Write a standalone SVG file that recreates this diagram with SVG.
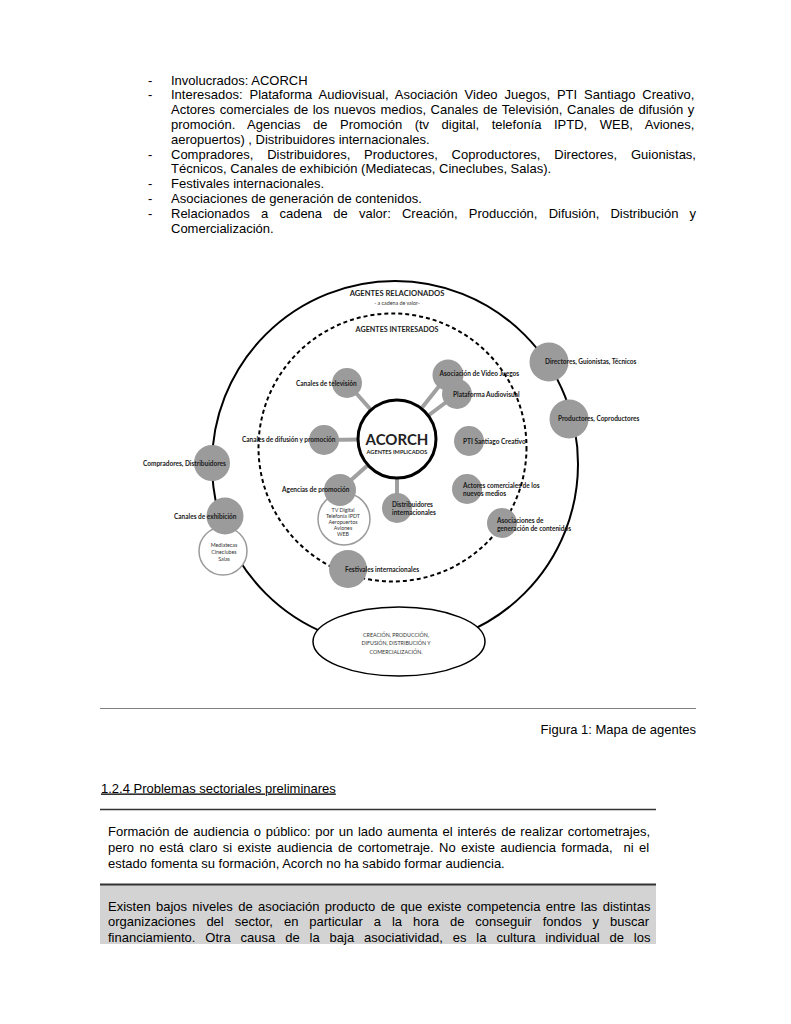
<svg xmlns="http://www.w3.org/2000/svg" width="791" height="1024" viewBox="0 0 791 1024">
<style>
.body{font-family:"Liberation Sans",Arial,sans-serif;font-size:13px;fill:#000}
.lbl{font-family:Lato,"Open Sans",sans-serif;font-weight:700;font-size:6.5px;fill:#1a1a1a}
.sm{font-family:Lato,"Open Sans",sans-serif;font-size:5.3px;fill:#333;text-anchor:middle}
.hd{font-family:Lato,"Open Sans",sans-serif;font-weight:700;fill:#222;text-anchor:middle}
.node{fill:#9b9b9b}
.wnode{fill:#fff;stroke:#9b9b9b;stroke-width:1.5}
.conn{stroke:#a0a0a0;stroke-width:4;fill:none}
</style>
<rect width="791" height="1024" fill="#fff"/>

<g id="intro-text" class="body">
<text x="148" y="84.5">-</text><text x="171" y="84.5">Involucrados: ACORCH</text>
<text x="148" y="99.3">-</text><text x="171" y="99.3" word-spacing="3.3">Interesados: Plataforma Audiovisual, Asociación Video Juegos, PTI Santiago Creativo,</text>
<text x="171" y="114.1" word-spacing="1.0">Actores comerciales de los nuevos medios, Canales de Televisión, Canales de difusión y</text>
<text x="171" y="128.9" word-spacing="8.88">promoción. Agencias de Promoción (tv digital, telefonía IPTD, WEB, Aviones,</text>
<text x="171" y="143.7">aeropuertos) , Distribuidores internacionales.</text>
<text x="148" y="158.5">-</text><text x="171" y="158.5" word-spacing="10.2">Compradores, Distribuidores, Productores, Coproductores, Directores, Guionistas,</text>
<text x="171" y="173.3">Técnicos, Canales de exhibición (Mediatecas, Cineclubes, Salas).</text>
<text x="148" y="188.1">-</text><text x="171" y="188.1">Festivales internacionales.</text>
<text x="148" y="202.9">-</text><text x="171" y="202.9">Asociaciones de generación de contenidos.</text>
<text x="148" y="217.7">-</text><text x="171" y="217.7" word-spacing="7.6">Relacionados a cadena de valor: Creación, Producción, Difusión, Distribución y</text>
<text x="171" y="232.5">Comercialización.</text>
</g>

<g id="rings">
<circle cx="395" cy="464" r="183" fill="none" stroke="#000" stroke-width="2"/>
<circle cx="392.5" cy="447.5" r="134" fill="none" stroke="#000" stroke-width="2" stroke-dasharray="4 3"/>
<text class="hd" x="397" y="296" font-size="7.6" font-weight="600">AGENTES RELACIONADOS</text>
<text class="sm" x="397" y="304.5" font-size="5.2">- a cadena de valor-</text>
<text class="hd" x="397" y="332" font-size="7.2" font-weight="600">AGENTES INTERESADOS</text>
</g>

<g id="connectors">
<line class="conn" x1="397" y1="439" x2="347" y2="383"/>
<line class="conn" x1="397" y1="439" x2="324" y2="440"/>
<line class="conn" x1="397" y1="439" x2="340" y2="490"/>
<line class="conn" x1="397" y1="439" x2="397" y2="508"/>
<line class="conn" x1="397" y1="439" x2="448" y2="375"/>
<line class="conn" x1="397" y1="439" x2="457" y2="394"/>
</g>

<g id="value-chain">
<ellipse cx="399" cy="641.5" rx="86" ry="34.5" fill="#fff" stroke="#000" stroke-width="1.5"/>
<text class="sm" x="396" y="636.5" font-size="5.7" fill="#555">CREACIÓN, PRODUCCIÓN,</text>
<text class="sm" x="396" y="645" font-size="5.7" fill="#555">DIFUSIÓN, DISTRIBUCIÓN Y</text>
<text class="sm" x="396" y="653.5" font-size="5.7" fill="#555">COMERCIALIZACIÓN.</text>
</g>

<g id="acorch">
<circle cx="397" cy="439" r="39" fill="#fff" stroke="#000" stroke-width="3"/>
<text class="hd" x="397" y="445" font-size="15" fill="#111">ACORCH</text>
<text class="hd" x="397" y="453.5" font-size="5.6" fill="#111">AGENTES IMPLICADOS</text>
</g>

<g id="canales-television">
<circle class="node" cx="347" cy="383" r="15"/>
<text class="lbl" x="296" y="385.5">Canales de televisión</text>
</g>
<g id="canales-difusion">
<circle class="node" cx="324" cy="440" r="15"/>
<text class="lbl" x="242" y="442">Canales de difusión y promoción</text>
</g>
<g id="agencias-promocion">
<circle class="wnode" cx="344" cy="519" r="26"/>
<circle class="node" cx="340" cy="490" r="16"/>
<text class="lbl" x="282" y="492">Agencias de promoción</text>
<text class="sm" x="343" y="512">TV Digital</text>
<text class="sm" x="343" y="518">Telefonía IPDT</text>
<text class="sm" x="343" y="524">Aeropuertos</text>
<text class="sm" x="343" y="530">Aviones</text>
<text class="sm" x="343" y="536">WEB</text>
</g>
<g id="distribuidores-internacionales">
<circle class="node" cx="397" cy="508" r="15"/>
<text class="lbl" x="392" y="506.5">Distribuidores</text>
<text class="lbl" x="392" y="514.5">internacionales</text>
</g>
<g id="festivales">
<circle class="node" cx="348" cy="569" r="19"/>
<text class="lbl" x="345" y="571.5">Festivales internacionales</text>
</g>
<g id="compradores">
<circle class="node" cx="212" cy="463" r="18"/>
<text class="lbl" x="143" y="465.5">Compradores, Distribuidores</text>
</g>
<g id="canales-exhibicion">
<circle class="wnode" cx="223" cy="551" r="24"/>
<circle class="node" cx="225" cy="516" r="18.5"/>
<text class="lbl" x="174" y="519">Canales de exhibición</text>
<text class="sm" x="224" y="547">Mediatecas</text>
<text class="sm" x="224" y="554">Cineclubes</text>
<text class="sm" x="224" y="561">Salas</text>
</g>
<g id="directores">
<circle class="node" cx="549" cy="362" r="19.5"/>
<text class="lbl" x="545" y="363.5">Directores, Guionistas, Técnicos</text>
</g>
<g id="productores">
<circle class="node" cx="569" cy="419" r="19.5"/>
<text class="lbl" x="558" y="420.5">Productores, Coproductores</text>
</g>
<g id="asociacion-video-juegos">
<circle class="node" cx="448" cy="375" r="15.5"/>
<text class="lbl" x="439.5" y="375.5">Asociación de Video Juegos</text>
</g>
<g id="plataforma-audiovisual">
<circle class="node" cx="457" cy="394" r="15"/>
<text class="lbl" x="453" y="396.5">Plataforma Audiovisual</text>
</g>
<g id="pti-santiago">
<circle class="node" cx="469" cy="441" r="15"/>
<text class="lbl" x="463" y="444">PTI Santiago Creativo</text>
</g>
<g id="actores-comerciales">
<circle class="node" cx="467" cy="489" r="15"/>
<text class="lbl" x="463" y="487.5">Actores comerciales de los</text>
<text class="lbl" x="463" y="496">nuevos medios</text>
</g>
<g id="asociaciones-contenidos">
<circle class="node" cx="502" cy="523" r="15"/>
<text class="lbl" x="497" y="523">Asociaciones de</text>
<text class="lbl" x="497" y="531">generación de contenidos</text>
</g>

<g id="caption" class="body">
<line x1="100" y1="708.5" x2="696" y2="708.5" stroke="#808080" stroke-width="1.2"/>
<text x="696" y="733.5" text-anchor="end">Figura 1: Mapa de agentes</text>
<text x="101" y="792.5" text-decoration="underline">1.2.4 Problemas sectoriales preliminares</text>
<line x1="100" y1="809.5" x2="656" y2="809.5" stroke="#333" stroke-width="1.6"/>
</g>

<g id="problem-1" class="body">
<text x="108" y="835.5" word-spacing="1.12">Formación de audiencia o público: por un lado aumenta el interés de realizar cortometrajes,</text>
<text x="108" y="851.5" word-spacing="1.77" xml:space="preserve">pero no está claro si existe audiencia de cortometraje. No existe audiencia formada,  ni el</text>
<text x="108" y="867.5">estado fomenta su formación, Acorch no ha sabido formar audiencia.</text>
</g>

<g id="problem-2" class="body">
<rect x="100" y="884" width="556" height="60" fill="#d3d3d3"/>
<line x1="100" y1="884.5" x2="656" y2="884.5" stroke="#333" stroke-width="2"/>
<text x="108" y="910.5" word-spacing="1.72">Existen bajos niveles de asociación producto de que existe competencia entre las distintas</text>
<text x="108" y="926" word-spacing="7.33">organizaciones del sector, en particular a la hora de conseguir fondos y buscar</text>
<text x="108" y="941.5" word-spacing="6.3">financiamiento. Otra causa de la baja asociatividad, es la cultura individual de los</text>
</g>
</svg>
